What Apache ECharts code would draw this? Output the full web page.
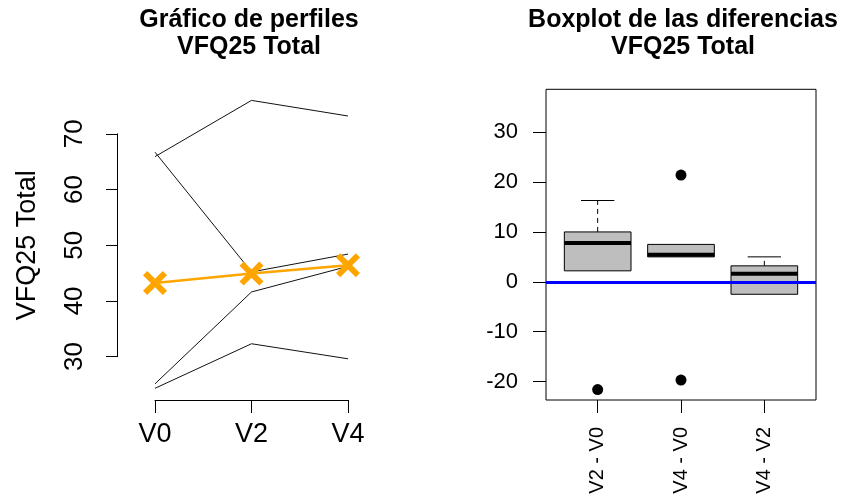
<!DOCTYPE html>
<html>
<head>
<meta charset="utf-8">
<script src="https://cdn.jsdelivr.net/npm/echarts@6/dist/echarts.min.js"></script>
<style>
  html, body { margin: 0; padding: 0; background: #fff; }
  #chart { width: 843px; height: 497px; }
</style>
</head>
<body>
<div id="chart"></div>
<script>
// perfiles: visitas y valores de cada paciente
const visits = ['V0', 'V2', 'V4'];
const profile1 = [65.9, 76.0, 73.2];
const profile2 = [66.7, 45.2, 48.4];
const profile3 = [25.1, 41.6, 46.2];
const profile4 = [24.3, 32.3, 29.6];
const profileMean = [43.2, 44.9, 46.4];
const profileTicks = [30, 40, 50, 60, 70];

// boxplot de las diferencias
const diffCats = ['V2 - V0', 'V4 - V0', 'V4 - V2'];
const whiskerLow = [2.2, 5.0, -2.5];
const boxQ1 = [2.2, 5.0, -2.5];
const boxMedian = [7.8, 5.4, 1.6];
const boxQ3 = [10.0, 7.5, 3.2];
const whiskerHigh = [16.3, 7.5, 5.0];
const outlierCat = [0, 1, 1];
const outlierVal = [-21.6, 21.4, -19.7];
const diffTicks = [-20, -10, 0, 10, 20, 30];

const FONT = 'Liberation Sans, Arial, sans-serif';
const boxWidth = 0.8;

const myChart = echarts.init(document.getElementById('chart'));

const profileSeries = [profile1, profile2, profile3, profile4].map(function (p) {
  return {
    type: 'line',
    xAxisIndex: 0,
    yAxisIndex: 0,
    data: p,
    symbol: 'none',
    clip: false,
    silent: true,
    lineStyle: { color: '#111', width: 1 }
  };
});

const xMark = 'path://M0,3.5L3.5,0L10,6.5L16.5,0L20,3.5L13.5,10L20,16.5L16.5,20L10,13.5L3.5,20L0,16.5L6.5,10Z';

const boxData = diffCats.map(function (c, i) {
  return [i + 1, whiskerLow[i], boxQ1[i], boxMedian[i], boxQ3[i], whiskerHigh[i]];
});
const outlierData = outlierCat.map(function (c, i) {
  return [c + 1, outlierVal[i]];
});

function renderBox(params, api) {
  const x = api.value(0);
  const lo = api.value(1), q1 = api.value(2), med = api.value(3), q3 = api.value(4), hi = api.value(5);
  const halfW = api.size([boxWidth, 0])[0] / 2;
  const pLo = api.coord([x, lo]);
  const pQ1 = api.coord([x, q1]);
  const pMed = api.coord([x, med]);
  const pQ3 = api.coord([x, q3]);
  const pHi = api.coord([x, hi]);
  const cx = pMed[0];
  const dashed = { stroke: '#000', lineWidth: 1, lineDash: [5, 4] };
  const solid = { stroke: '#000', lineWidth: 1 };
  const children = [];
  if (hi > q3) {
    children.push({ type: 'line', shape: { x1: cx, y1: pQ3[1], x2: cx, y2: pHi[1] }, style: dashed });
    children.push({ type: 'line', shape: { x1: cx - halfW / 2, y1: pHi[1], x2: cx + halfW / 2, y2: pHi[1] }, style: solid });
  }
  if (lo < q1) {
    children.push({ type: 'line', shape: { x1: cx, y1: pQ1[1], x2: cx, y2: pLo[1] }, style: dashed });
    children.push({ type: 'line', shape: { x1: cx - halfW / 2, y1: pLo[1], x2: cx + halfW / 2, y2: pLo[1] }, style: solid });
  }
  children.push({
    type: 'rect',
    shape: { x: cx - halfW, y: pQ3[1], width: halfW * 2, height: pQ1[1] - pQ3[1] },
    style: { fill: '#bebebe', stroke: '#000', lineWidth: 1 }
  });
  children.push({
    type: 'line',
    shape: { x1: cx - halfW, y1: pMed[1], x2: cx + halfW, y2: pMed[1] },
    style: { stroke: '#000', lineWidth: 4 }
  });
  return { type: 'group', children: children };
}

myChart.setOption({
  animation: false,
  textStyle: { fontFamily: FONT },
  title: [
    {
      text: 'Gráfico de perfiles\nVFQ25 Total',
      left: 249,
      top: 7,
      textAlign: 'center',
      padding: 0,
      textStyle: { fontFamily: FONT, fontSize: 25, fontWeight: 'bold', color: '#000', lineHeight: 27 }
    },
    {
      text: 'Boxplot de las diferencias\nVFQ25 Total',
      left: 683,
      top: 7,
      textAlign: 'center',
      padding: 0,
      textStyle: { fontFamily: FONT, fontSize: 25, fontWeight: 'bold', color: '#000', lineHeight: 27 }
    }
  ],
  grid: [
    { left: 155, top: 88.7, width: 193, height: 311.3, outerBoundsMode: 'none' },
    { left: 117, top: 133.8, width: 231, height: 222.8, outerBoundsMode: 'none' },
    {
      left: 546, top: 89.3, width: 270, height: 310.7, outerBoundsMode: 'none',
      show: true, borderColor: '#000', borderWidth: 1, backgroundColor: 'transparent'
    }
  ],
  xAxis: [
    {
      gridIndex: 0,
      type: 'category',
      data: visits,
      boundaryGap: false,
      axisLine: { show: true, onZero: false, lineStyle: { color: '#000', width: 1 } },
      axisTick: { show: true, length: 13, lineStyle: { color: '#000' } },
      axisLabel: { color: '#000', fontSize: 27, margin: 21, fontFamily: FONT },
      splitLine: { show: false }
    },
    { gridIndex: 1, type: 'value', show: false },
    {
      gridIndex: 2,
      type: 'value',
      min: 0.38,
      max: 3.62,
      position: 'bottom',
      axisLine: { show: false, onZero: false },
      axisTick: { show: true, length: 13, customValues: [1, 2, 3], lineStyle: { color: '#000' } },
      axisLabel: {
        customValues: [1, 2, 3],
        formatter: function (v) { return diffCats[Math.round(v) - 1]; },
        rotate: 90,
        color: '#000',
        fontSize: 20,
        margin: 27,
        fontFamily: FONT
      },
      splitLine: { show: false }
    }
  ],
  yAxis: [
    { gridIndex: 0, type: 'value', min: 22.2, max: 78.1, show: false },
    {
      gridIndex: 1,
      type: 'value',
      min: 30,
      max: 70,
      interval: 10,
      name: 'VFQ25 Total',
      nameLocation: 'middle',
      nameRotate: 90,
      nameGap: 76,
      nameTextStyle: { color: '#000', fontSize: 27, fontFamily: FONT },
      axisLine: { show: true, onZero: false, lineStyle: { color: '#000', width: 1 } },
      axisTick: { show: true, length: 11, lineStyle: { color: '#000' } },
      axisLabel: {
        rotate: 90,
        align: 'center',
        verticalAlign: 'bottom',
        color: '#000',
        fontSize: 26,
        margin: 29,
        fontFamily: FONT,
        customValues: profileTicks
      },
      splitLine: { show: false }
    },
    {
      gridIndex: 2,
      type: 'value',
      min: -23.7,
      max: 38.6,
      position: 'left',
      axisLine: { show: false, onZero: false },
      axisTick: { show: true, length: 13, customValues: diffTicks, lineStyle: { color: '#000' } },
      axisLabel: { customValues: diffTicks, color: '#000', fontSize: 22, margin: 28, fontFamily: FONT },
      splitLine: { show: false }
    }
  ],
  series: profileSeries.concat([
    {
      type: 'line',
      xAxisIndex: 0,
      yAxisIndex: 0,
      data: profileMean,
      clip: false,
      symbol: xMark,
      symbolSize: 24,
      showAllSymbol: true,
      lineStyle: { color: '#ffa500', width: 2.5 },
      itemStyle: { color: '#ffa500' },
      z: 5
    },
    {
      type: 'custom',
      xAxisIndex: 2,
      yAxisIndex: 2,
      data: boxData,
      encode: { x: 0, y: [1, 2, 3, 4, 5] },
      renderItem: renderBox,
      clip: false,
      silent: true,
      z: 2
    },
    {
      type: 'scatter',
      xAxisIndex: 2,
      yAxisIndex: 2,
      data: outlierData,
      symbol: 'circle',
      symbolSize: 11,
      itemStyle: { color: '#000', opacity: 1 },
      silent: true,
      z: 3,
      markLine: {
        silent: true,
        symbol: 'none',
        label: { show: false },
        lineStyle: { color: '#0000ff', width: 3, type: 'solid' },
        data: [{ yAxis: 0 }],
        z: 4
      }
    }
  ])
});
</script>
</body>
</html>
